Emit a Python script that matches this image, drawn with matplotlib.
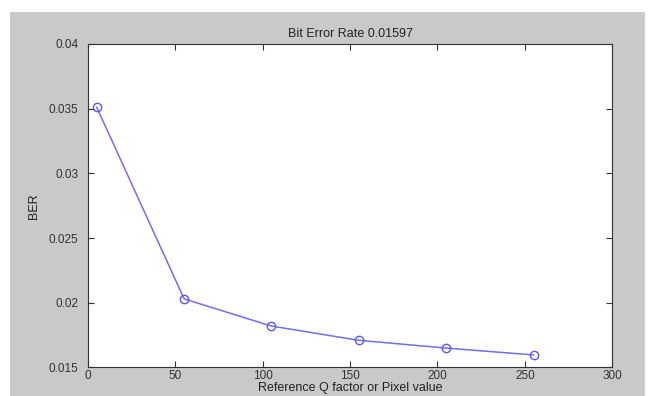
import matplotlib
matplotlib.use("Agg")
import matplotlib.pyplot as plt
from matplotlib.patches import Rectangle

x_vals = [5, 55, 105, 155, 205, 255]
ber_vals = [0.0351, 0.0203, 0.0182, 0.0171, 0.0165, 0.01597]
xticks = [0, 50, 100, 150, 200, 250, 300]
yticks = [0.015, 0.02, 0.025, 0.03, 0.035, 0.04]
yticklabels = ["0.015", "0.02", "0.025", "0.03", "0.035", "0.04"]

plt.rcParams['font.family'] = ['Liberation Sans', 'DejaVu Sans']

fig = plt.figure(figsize=(6.52, 3.96), dpi=100)
fig.patch.set_facecolor('white')
fig.patches.append(Rectangle((10/652, 0), 635/652, 1 - 12/396, transform=fig.transFigure,
                             facecolor='#c9c9c9', edgecolor='none', zorder=-5))

ax = fig.add_axes([0.135, 0.072, 0.804, 0.817])
ax.set_facecolor('white')
ax.plot(x_vals, ber_vals, '-o', color='#6f6ff0', markerfacecolor='none',
        markeredgecolor='#5a5af0', markersize=6, linewidth=1.1)
ax.set_xlim(0, 300)
ax.set_ylim(0.015, 0.04)
ax.set_xticks(xticks)
ax.set_yticks(yticks)
ax.set_yticklabels(yticklabels)
ax.tick_params(direction='in', top=True, right=True, labelsize=8.5, colors='#333333', length=4)
ax.tick_params(axis='x', pad=2)
ax.tick_params(axis='y', pad=7)
for s in ax.spines.values():
    s.set_color('#333333')
ax.set_title("Bit Error Rate 0.01597", fontsize=9, color='#222222', pad=5)
ax.set_xlabel("Reference Q factor or Pixel value", fontsize=9, color='#222222', labelpad=0)
ax.set_ylabel("BER", fontsize=9, color='#222222', labelpad=6)

fig.savefig("out.png", dpi=100)
